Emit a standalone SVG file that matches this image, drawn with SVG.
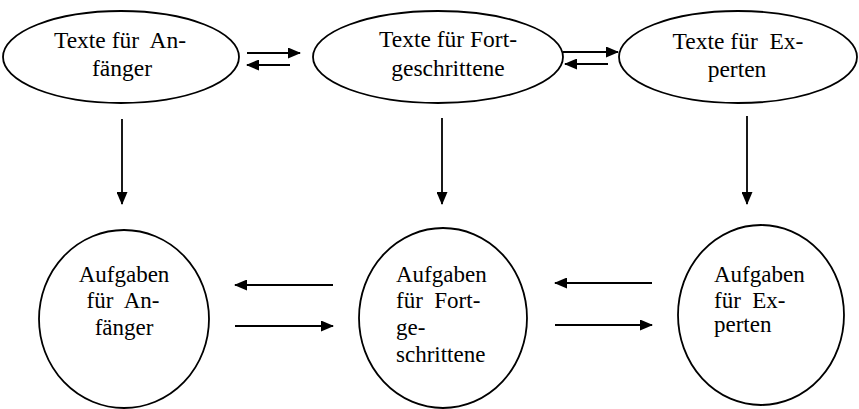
<svg xmlns="http://www.w3.org/2000/svg" width="859" height="409" viewBox="0 0 859 409">
  <style>
    .shape { fill: #fff; stroke: #000; stroke-width: 1.8; }
    .lbl { font-family: "Liberation Serif", "Times New Roman", serif; font-size: 23px; fill: #000; white-space: pre; }
    .top { font-size: 23.5px; }
    .mid { text-anchor: middle; }
    .edge { stroke: #000; stroke-width: 1.8; fill: none; marker-end: url(#head); }
  </style>
  <defs>
    <marker id="head" viewBox="0 0 13 11" refX="12" refY="5.5" markerWidth="13" markerHeight="11" markerUnits="userSpaceOnUse" orient="auto">
      <path d="M0,0 L13,5.5 L0,11 Z" fill="#000"/>
    </marker>
  </defs>

  <rect width="859" height="409" fill="#fff"/>

  <!-- reading texts, top row -->
  <g id="texte-anfaenger">
    <ellipse class="shape" cx="121" cy="57" rx="118" ry="46"/>
    <text class="lbl top mid" x="120" y="48" xml:space="preserve">Texte für  An-</text>
    <text class="lbl top mid" x="122" y="76">fänger</text>
  </g>
  <g id="texte-fortgeschrittene">
    <ellipse class="shape" cx="438" cy="57" rx="125" ry="46"/>
    <text class="lbl top mid" x="448" y="47">Texte für Fort-</text>
    <text class="lbl top mid" x="448" y="76">geschrittene</text>
  </g>
  <g id="texte-experten">
    <ellipse class="shape" cx="738" cy="57" rx="119" ry="46"/>
    <text class="lbl top mid" x="738" y="49" xml:space="preserve">Texte für  Ex-</text>
    <text class="lbl top mid" x="737" y="77">perten</text>
  </g>

  <!-- exercises, bottom row -->
  <g id="aufgaben-anfaenger">
    <ellipse class="shape" cx="124" cy="319" rx="85" ry="89"/>
    <text class="lbl mid" x="124" y="282">Aufgaben</text>
    <text class="lbl mid" x="123" y="308" xml:space="preserve">für  An-</text>
    <text class="lbl mid" x="124" y="335">fänger</text>
  </g>
  <g id="aufgaben-fortgeschrittene">
    <ellipse class="shape" cx="443" cy="318" rx="84" ry="90"/>
    <text class="lbl" x="396" y="282">Aufgaben</text>
    <text class="lbl" x="396" y="308" xml:space="preserve">für  Fort-</text>
    <text class="lbl" x="396" y="335">ge-</text>
    <text class="lbl" x="396" y="362">schrittene</text>
  </g>
  <g id="aufgaben-experten">
    <ellipse class="shape" cx="761" cy="315" rx="83" ry="90"/>
    <text class="lbl" x="714" y="282">Aufgaben</text>
    <text class="lbl" x="714" y="308" xml:space="preserve">für  Ex-</text>
    <text class="lbl" x="714" y="332">perten</text>
  </g>

  <g id="connectors">
    <!-- between top ellipses -->
    <line class="edge" x1="247" y1="53" x2="300" y2="53"/>
    <line class="edge" x1="290" y1="65" x2="247" y2="65"/>
    <line class="edge" x1="563" y1="52" x2="618" y2="52"/>
    <line class="edge" x1="608" y1="64" x2="565" y2="64"/>
    <!-- top to bottom -->
    <line class="edge" x1="122" y1="119" x2="122" y2="204"/>
    <line class="edge" x1="442" y1="118" x2="442" y2="204"/>
    <line class="edge" x1="747" y1="116" x2="747" y2="204"/>
    <!-- between bottom circles -->
    <line class="edge" x1="333" y1="285" x2="235" y2="285"/>
    <line class="edge" x1="235" y1="326" x2="333" y2="326"/>
    <line class="edge" x1="652" y1="283" x2="555" y2="283"/>
    <line class="edge" x1="555" y1="325" x2="652" y2="325"/>
  </g>
</svg>
